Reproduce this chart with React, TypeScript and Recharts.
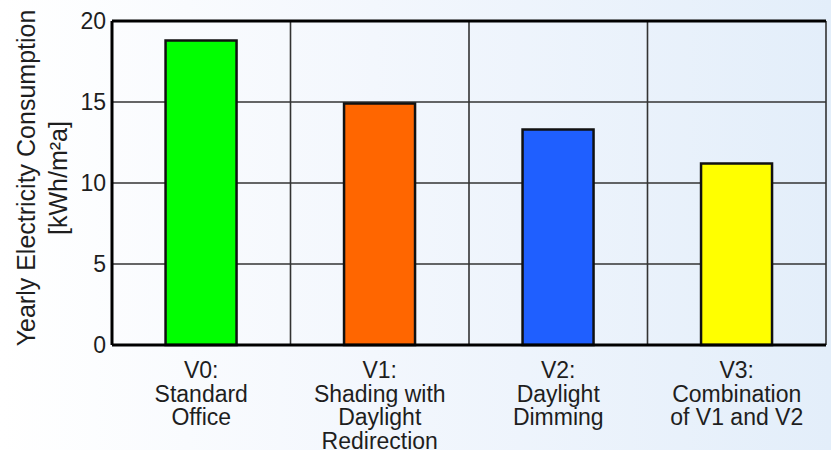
import React from "react";
import {
  BarChart,
  Bar,
  Cell,
  XAxis,
  YAxis,
  CartesianGrid,
  ReferenceLine,
} from "recharts";

const categories = [
  "V0:\nStandard\nOffice",
  "V1:\nShading with\nDaylight\nRedirection",
  "V2:\nDaylight\nDimming",
  "V3:\nCombination\nof V1 and V2",
];
const consumption = [18.8, 14.9, 13.3, 11.2];
const yTicks = [0, 5, 10, 15, 20];
const yLabelLines = ["Yearly Electricity Consumption", "[kWh/m²a]"];

const barColors = ["#00ff00", "#ff6600", "#1f5fff", "#ffff00"];
const FONT = "'Liberation Sans', Arial, sans-serif";
const TEXT = "#1e1e1e";

const data = categories.map((c, i) => ({ name: c, value: consumption[i] }));

// vertical grid lines at category boundaries
const boundaryGenerator = (props: any) => {
  const { offset } = props;
  const n = categories.length;
  const out: number[] = [];
  for (let i = 0; i <= n; i++) out.push(offset.left + (offset.width * i) / n);
  return out;
};

const XTick = (props: any) => {
  const { x, y, payload } = props;
  const lines = String(payload.value).split("\n");
  return (
    <text
      x={x}
      y={y}
      textAnchor="middle"
      fontFamily={FONT}
      fontSize={23}
      fill={TEXT}
    >
      {lines.map((l, i) => (
        <tspan key={i} x={x} y={y + 33 + i * 23.5}>
          {l}
        </tspan>
      ))}
    </text>
  );
};

const YLabel = (props: any) => {
  const vb = props.viewBox || { x: 0, y: 21, width: 112, height: 324 };
  const cy = vb.y + vb.height / 2 - 5;
  const xs = [35, 67];
  return (
    <g>
      {yLabelLines.map((l, i) => (
        <text
          key={i}
          x={xs[i]}
          y={cy}
          transform={`rotate(-90 ${xs[i]} ${cy})`}
          textAnchor="middle"
          fontFamily={FONT}
          fontSize={25}
          fill={TEXT}
        >
          {l}
        </text>
      ))}
    </g>
  );
};

export default function App() {
  return (
    <div
      style={{
        position: "absolute",
        left: 0,
        top: 0,
        width: 831,
        height: 450,
        background:
          "linear-gradient(to right, #ffffff 0%, #f3f7fd 45%, #e3eefa 100%)",
        fontFamily: FONT,
      }}
    >
      <BarChart
        width={831}
        height={450}
        data={data}
        margin={{ top: 21, right: 5, left: 0, bottom: 0 }}
        barCategoryGap="30%"
      >
        <CartesianGrid
          stroke="#333"
          strokeWidth={1.6}
          verticalCoordinatesGenerator={boundaryGenerator}
        />
        <XAxis
          dataKey="name"
          height={105}
          interval={0}
          tickLine={false}
          tickSize={0}
          tickMargin={0}
          axisLine={{ stroke: "#000", strokeWidth: 3 }}
          tick={<XTick />}
        />
        <YAxis
          width={112}
          domain={[0, 20]}
          ticks={yTicks}
          tickLine={false}
          tickSize={0}
          tickMargin={6}
          axisLine={{ stroke: "#000", strokeWidth: 3 }}
          tick={{ fontSize: 23, fill: TEXT, fontFamily: FONT }}
          label={{ content: <YLabel /> }}
        />
        <YAxis
          yAxisId="right"
          orientation="right"
          width={0}
          domain={[0, 20]}
          ticks={yTicks}
          tick={false}
          tickLine={false}
          axisLine={{ stroke: "#000", strokeWidth: 3 }}
        />
        <Bar
          dataKey="value"
          stroke="#111"
          strokeWidth={2.5}
          isAnimationActive={false}
        >
          {data.map((d, i) => (
            <Cell key={i} fill={barColors[i]} />
          ))}
        </Bar>
        <ReferenceLine y={20} stroke="#000" strokeWidth={3} />
      </BarChart>
    </div>
  );
}
